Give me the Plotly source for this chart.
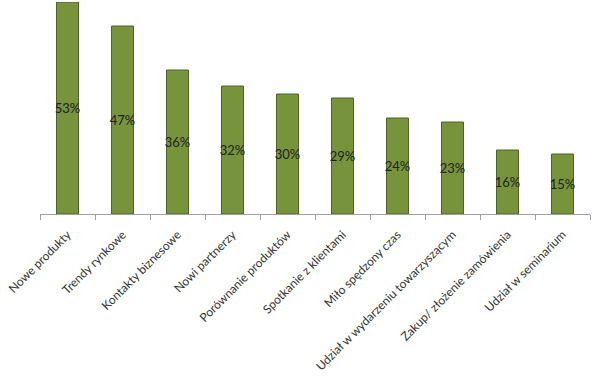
import plotly.graph_objects as go

categories = ["Nowe produkty", "Trendy rynkowe", "Kontakty biznesowe", "Nowi partnerzy",
              "Porównanie produktów", "Spotkanie z klientami", "Miło spędzony czas",
              "Udział w wydarzeniu towarzyszącym", "Zakup/ złożenie zamówienia", "Udział w seminarium"]
values = [53, 47, 36, 32, 30, 29, 24, 23, 16, 15]
labels = [f"{v}%" for v in values]

fig = go.Figure(go.Bar(
    x=categories, y=values, text=labels,
    textposition="inside", insidetextanchor="middle", textangle=0,
    textfont=dict(family="Lato", size=13, color="#222222"),
    marker=dict(color="#77933C", line=dict(color="#4F6228", width=1)),
    width=0.4, hoverinfo="skip",
))
fig.update_layout(
    width=600, height=376, margin=dict(l=40, r=10, t=2, b=162),
    paper_bgcolor="white", plot_bgcolor="white", showlegend=False,
    uniformtext=dict(minsize=13, mode="show"),
)
fig.update_xaxes(
    tickangle=-45, tickson="boundaries", ticks="outside", ticklen=5, tickcolor="#A0A0A0",
    ticklabelstandoff=8,
    showline=True, linecolor="#A0A0A0", linewidth=1, showgrid=False, automargin=False,
    tickfont=dict(family="Lato", size=12, color="#333333"),
)
fig.update_yaxes(range=[0, 53], visible=False, showgrid=False, zeroline=False, automargin=False)
fig.write_html("out.html", config={"displayModeBar": False},
               post_script="document.body.style.margin='0';")
